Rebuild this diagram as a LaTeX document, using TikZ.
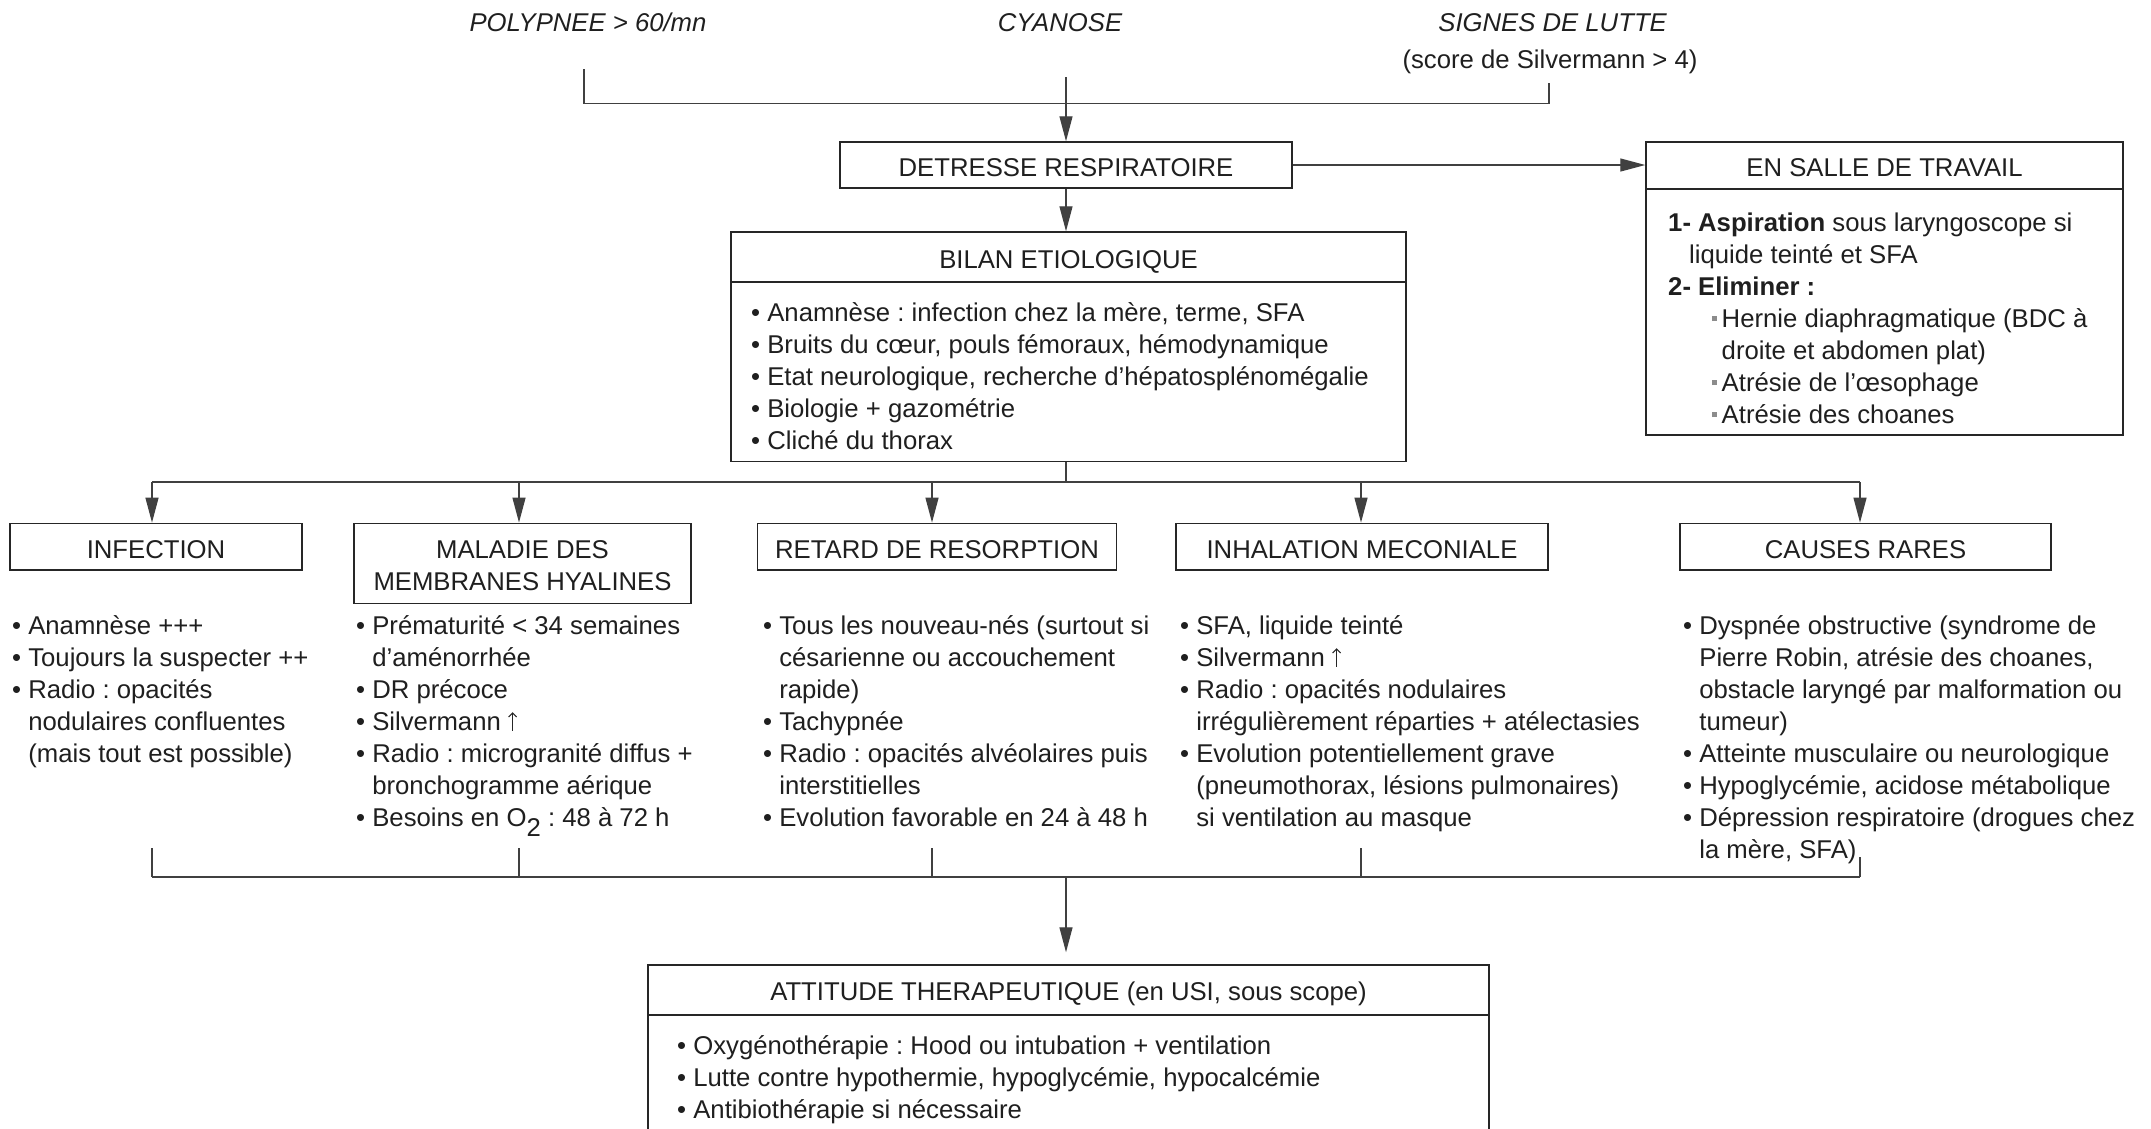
\documentclass[tikz,border=0pt]{standalone}
\usepackage{fontspec}
\setmainfont{Liberation Sans}
\usetikzlibrary{arrows.meta}
\frenchspacing

% list helpers: bullet line, continuation line, square sub-item, sub continuation
\newcommand\bitem{\strut\textbullet\ }
\newcommand\bcont{\strut\hphantom{\textbullet\ }}
\newcommand\sqitem{\strut\hspace*{43.5pt}\makebox[10pt][l]{\textcolor{black!45}{\rule[6pt]{5pt}{5pt}}}}
\newcommand\sqcont{\strut\hspace*{53.5pt}}
% thin upward arrow, as tall as a capital
\newcommand\uparr{\tikz[baseline=0pt]\draw[black!85, line width=1.1pt, -{Straight Barb[length=4pt,width=8pt]}] (0pt,0pt) -- (0pt,18.5pt);}

\tikzset{
  box/.style={draw=black!85, line width=1.5pt, inner sep=0pt, rectangle},
  rule/.style={draw=black!85, line width=1.5pt},
  conn/.style={draw=black!75, line width=1.3pt},
  arr/.style={conn, -{Triangle[length=25pt,width=13pt]}},
  txt/.style={font=\fontsize{25.7}{32}\selectfont, text=black!88, inner sep=0pt},
  lst/.style={txt, align=left, anchor=north west},
  ttl/.style={txt, anchor=base},
  itl/.style={txt, anchor=base, font=\fontsize{25.7}{32}\selectfont\itshape},
}

\begin{document}
\begin{tikzpicture}[x=1pt, y=-1pt]
\path[use as bounding box, fill=white] (0,0) rectangle (2151,1128);
\clip (0,0) rectangle (2151,1128);

% ---- signs on top ----
\node[itl] (poly) at (588,31.7) {POLYPNEE > 60/mn};
\node[itl] (cyan) at (1060,31.7) {CYANOSE};
\node[itl] (lutte) at (1552.6,31.7) {SIGNES DE LUTTE};
\node[ttl] (score) at (1550,68) {(score de Silvermann > 4)};

\coordinate (polyEnd) at (584,69);
\coordinate (cyanEnd) at (1066,77);
\coordinate (lutteEnd) at (1549,83);
\coordinate (joinTop) at (0,103.5);

% ---- boxes ----
\node[box, minimum width=452pt, minimum height=46pt] (detresse) at (1066,165) {};
\node[ttl] (detresseT) at (1066,176.5) {DETRESSE RESPIRATOIRE};

\node[box, minimum width=477pt, minimum height=293pt] (salle) at (1884.5,288.5) {};
\node[ttl] (salleT) at (1884.5,176.7) {EN SALLE DE TRAVAIL};
\draw[rule] (salle.west |- 0,189) -- (salle.east |- 0,189);

\node[box, minimum width=675pt, minimum height=229.5pt] (bilan) at (1068.5,346.75) {};
\node[ttl] (bilanT) at (1068.5,268.3) {BILAN ETIOLOGIQUE};
\draw[rule] (bilan.west |- 0,282) -- (bilan.east |- 0,282);

\node[box, minimum width=292pt, minimum height=46.7pt] (infection) at (156,546.7) {};
\node[ttl] (infectionT) at (156,558.3) {INFECTION};

\node[box, minimum width=337pt, minimum height=80pt] (maladie) at (522.5,563.3) {};
\node[txt, align=center, anchor=north] (maladieT) at (522.5,535.9) {\strut MALADIE DES\\\strut MEMBRANES HYALINES};

\node[box, minimum width=359pt, minimum height=46.7pt] (retard) at (937,546.7) {};
\node[ttl] (retardT) at (937,558.3) {RETARD DE RESORPTION};

\node[box, minimum width=372pt, minimum height=46.7pt] (inhal) at (1362,546.7) {};
\node[ttl] (inhalT) at (1362,558.3) {INHALATION MECONIALE};

\node[box, minimum width=371pt, minimum height=46.7pt] (causes) at (1865.5,546.7) {};
\node[ttl] (causesT) at (1865.5,558.3) {CAUSES RARES};

\node[box, minimum width=841pt, minimum height=200pt] (attitude) at (1068.5,1065) {};
\node[ttl] (attitudeT) at (1068.5,1000) {ATTITUDE THERAPEUTIQUE (en USI, sous scope)};
\draw[rule] (attitude.west |- 0,1015) -- (attitude.east |- 0,1015);

% ---- box contents ----
\node[lst] (salleL) at (1668,208.6) {%
\strut{\bfseries 1- Aspiration} sous laryngoscope si\\
\strut\hspace*{21pt}liquide teinté et SFA\\
\strut{\bfseries 2- Eliminer :}\\
\sqitem Hernie diaphragmatique (BDC à\\
\sqcont droite et abdomen plat)\\
\sqitem Atrésie de l’œsophage\\
\sqitem Atrésie des choanes};

\node[lst] (bilanL) at (751,299.3) {%
\bitem Anamnèse : infection chez la mère, terme, SFA\\
\bitem Bruits du cœur, pouls fémoraux, hémodynamique\\
\bitem Etat neurologique, recherche d’hépatosplénomégalie\\
\bitem Biologie + gazométrie\\
\bitem Cliché du thorax};

\node[lst] (infectionL) at (12,612.1) {%
\bitem Anamnèse +++\\
\bitem Toujours la suspecter ++\\
\bitem Radio : opacités\\
\bcont nodulaires confluentes\\
\bcont (mais tout est possible)};

\node[lst] (maladieL) at (356,612.1) {%
\bitem Prématurité < 34 semaines\\
\bcont d’aménorrhée\\
\bitem DR précoce\\
\bitem Silvermann \uparr\\
\bitem Radio : microgranité diffus +\\
\bcont bronchogramme aérique\\
\bitem Besoins en O\raisebox{-10pt}{2} : 48 à 72 h};

\node[lst] (retardL) at (763,612.1) {%
\bitem Tous les nouveau-nés (surtout si\\
\bcont césarienne ou accouchement\\
\bcont rapide)\\
\bitem Tachypnée\\
\bitem Radio : opacités alvéolaires puis\\
\bcont interstitielles\\
\bitem Evolution favorable en 24 à 48 h};

\node[lst] (inhalL) at (1180,612.1) {%
\bitem SFA, liquide teinté\\
\bitem Silvermann \uparr\\
\bitem Radio : opacités nodulaires\\
\bcont irrégulièrement réparties + atélectasies\\
\bitem Evolution potentiellement grave\\
\bcont (pneumothorax, lésions pulmonaires)\\
\bcont si ventilation au masque};

\node[lst] (causesL) at (1683,612.1) {%
\bitem Dyspnée obstructive (syndrome de\\
\bcont Pierre Robin, atrésie des choanes,\\
\bcont obstacle laryngé par malformation ou\\
\bcont tumeur)\\
\bitem Atteinte musculaire ou neurologique\\
\bitem Hypoglycémie, acidose métabolique\\
\bitem Dépression respiratoire (drogues chez\\
\bcont la mère, SFA)};

\node[lst] (attitudeL) at (677,1031.6) {%
\bitem Oxygénothérapie : Hood ou intubation + ventilation\\
\bitem Lutte contre hypothermie, hypoglycémie, hypocalcémie\\
\bitem Antibiothérapie si nécessaire};

% ---- connectors ----
\draw[conn] (polyEnd) -- (polyEnd |- joinTop) -- (lutteEnd |- joinTop) -- (lutteEnd);
\draw[arr] (cyanEnd) -- (detresse.north);
\draw[arr] (detresse.east) -- (salle.west |- detresse.east);
\draw[arr] (detresse.south) -- (detresse.south |- bilan.north);

% columns of the five branches
\coordinate (colA) at (152,0);
\coordinate (colB) at (519,0);
\coordinate (colC) at (932,0);
\coordinate (colD) at (1361,0);
\coordinate (colE) at (1860,0);

\coordinate (joinMid) at (0,482);
\draw[conn] (detresse.south |- bilan.south) -- (detresse.south |- joinMid);
\draw[conn] (colA |- joinMid) -- (colE |- joinMid);
\draw[arr] (colA |- joinMid) -- (colA |- infection.north);
\draw[arr] (colB |- joinMid) -- (colB |- maladie.north);
\draw[arr] (colC |- joinMid) -- (colC |- retard.north);
\draw[arr] (colD |- joinMid) -- (colD |- inhal.north);
\draw[arr] (colE |- joinMid) -- (colE |- causes.north);

\coordinate (joinBot) at (0,877);
\foreach \c in {colA, colB, colC, colD}
  \draw[conn] (\c |- 0,848) -- (\c |- joinBot);
\draw[conn] (colE |- 0,857) -- (colE |- joinBot);
\draw[conn] (colA |- joinBot) -- (colE |- joinBot);
\draw[arr, shorten >=12pt] (detresse.south |- joinBot) -- (detresse.south |- attitude.north);

\end{tikzpicture}
\end{document}
